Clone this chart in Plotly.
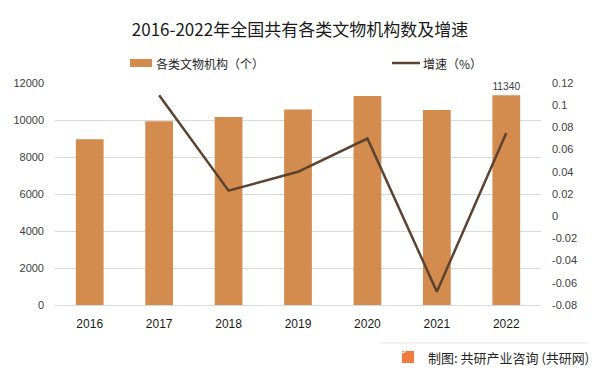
import plotly.graph_objects as go

years = ["2016", "2017", "2018", "2019", "2020", "2021", "2022"]
institutions = [8954, 9931, 10160, 10562, 11294, 10545, 11340]
growth = [None, 0.109, 0.023, 0.040, 0.070, -0.068, 0.075]
bar_labels = ["", "", "", "", "", "", "11340"]
left_ticks = [0, 2000, 4000, 6000, 8000, 10000, 12000]
left_ticktext = ["0", "2000", "4000", "6000", "8000", "10000", "12000"]
right_tickvals = [-0.08, -0.06, -0.04, -0.02, 0, 0.02, 0.04, 0.06, 0.08, 0.1, 0.12]
right_ticktext = ["-0.08", "-0.06", "-0.04", "-0.02", "0", "0.02", "0.04", "0.06", "0.08", "0.1", "0.12"]
legend_names = ["各类文物机构（个）", "增速（%）"]

BAR = "#D38B4E"
LINE = "#5B4330"
TICK_FONT = dict(family="Liberation Sans, Arial, sans-serif", size=11, color="#404040")

# page body has an 8px margin: figure origin sits at (8, 8) in the window
OFF = 8
W, H = 601 - OFF, 375 - OFF
L, R, T, B = 55 - OFF, 60, 83 - OFF, 70
PW, PH = W - L - R, H - T - B


def px(x):
    return (x - 55) / PW


def py(y):
    return (305 - y) / PH


fig = go.Figure()
fig.add_trace(go.Bar(
    x=years, y=institutions, name=legend_names[0],
    marker=dict(color=BAR, line=dict(width=0)),
    text=bar_labels, textposition="outside", cliponaxis=False,
    textfont=dict(family="Liberation Sans, Arial, sans-serif", size=11, color="#404040"),
    yaxis="y", showlegend=False,
))
fig.add_trace(go.Scatter(
    x=years, y=growth, name=legend_names[1], mode="lines",
    line=dict(color=LINE, width=2.5), yaxis="y2", connectgaps=False,
    showlegend=False,
))

fig.update_layout(
    width=W, height=H,
    margin=dict(l=L, r=R, t=T, b=B, autoexpand=False),
    paper_bgcolor="white", plot_bgcolor="white",
    title=dict(text="2016-2022年全国共有各类文物机构数及增速",
               x=(300 - OFF) / W, xanchor="center", y=1 - (30 - OFF) / H, yanchor="middle",
               font=dict(family="Noto Sans CJK SC", size=17, color="#1a1a1a")),
    bargap=0.6,
    showlegend=False,
    xaxis=dict(type="category", showgrid=False, showline=True, linecolor="#D9D9D9",
               linewidth=1, ticks="", ticklabelstandoff=8, automargin=False,
               tickfont=dict(family="Liberation Sans, Arial, sans-serif", size=12, color="#1a1a1a")),
    yaxis=dict(range=[0, 12000], tickvals=left_ticks, ticktext=left_ticktext,
               showgrid=True, gridcolor="#D9D9D9",
               gridwidth=1, zeroline=False, showline=False, ticks="", automargin=False,
               ticklabelstandoff=10, tickfont=TICK_FONT),
    yaxis2=dict(range=[-0.08, 0.12], overlaying="y", side="right",
                tickvals=right_tickvals, ticktext=right_ticktext, automargin=False,
                showgrid=False, zeroline=False, showline=False, ticks="",
                ticklabelstandoff=10, tickfont=TICK_FONT),
)

# manual legend
fig.add_shape(type="rect", xref="paper", yref="paper",
              x0=px(130), x1=px(152), y0=py(67), y1=py(59),
              fillcolor=BAR, line=dict(width=0))
fig.add_annotation(xref="paper", yref="paper", x=px(154), xanchor="left",
                   y=py(63), yanchor="middle", text=legend_names[0], showarrow=False,
                   font=dict(family="Noto Sans CJK SC", size=12, color="#262626"))
fig.add_shape(type="line", xref="paper", yref="paper",
              x0=px(392), x1=px(420), y0=py(63), y1=py(63),
              line=dict(color=LINE, width=2.5))
fig.add_annotation(xref="paper", yref="paper", x=px(421), xanchor="left",
                   y=py(63), yanchor="middle", text=legend_names[1], showarrow=False,
                   font=dict(family="Noto Sans CJK SC", size=12, color="#262626"))

# source footer
fig.add_shape(type="line", xref="paper", yref="paper",
              x0=px(380), x1=px(588), y0=py(343), y1=py(343),
              line=dict(color="#E6E6E6", width=1))
fig.add_shape(type="rect", xref="paper", yref="paper",
              x0=px(402), x1=px(414), y0=py(363), y1=py(351),
              fillcolor="#F07B3F", line=dict(width=0))
fig.add_annotation(xref="paper", yref="paper", x=px(408), y=py(357),
                   text="<b>G</b>", showarrow=False,
                   font=dict(family="Liberation Sans", size=9, color="white"))
fig.add_annotation(xref="paper", yref="paper", x=px(591), xanchor="right",
                   y=py(357), yanchor="middle",
                   text="制图: 共研产业咨询 (共研网)", showarrow=False,
                   font=dict(family="Noto Sans CJK SC", size=13, color="#262626"))

fig.write_html("out.html")
